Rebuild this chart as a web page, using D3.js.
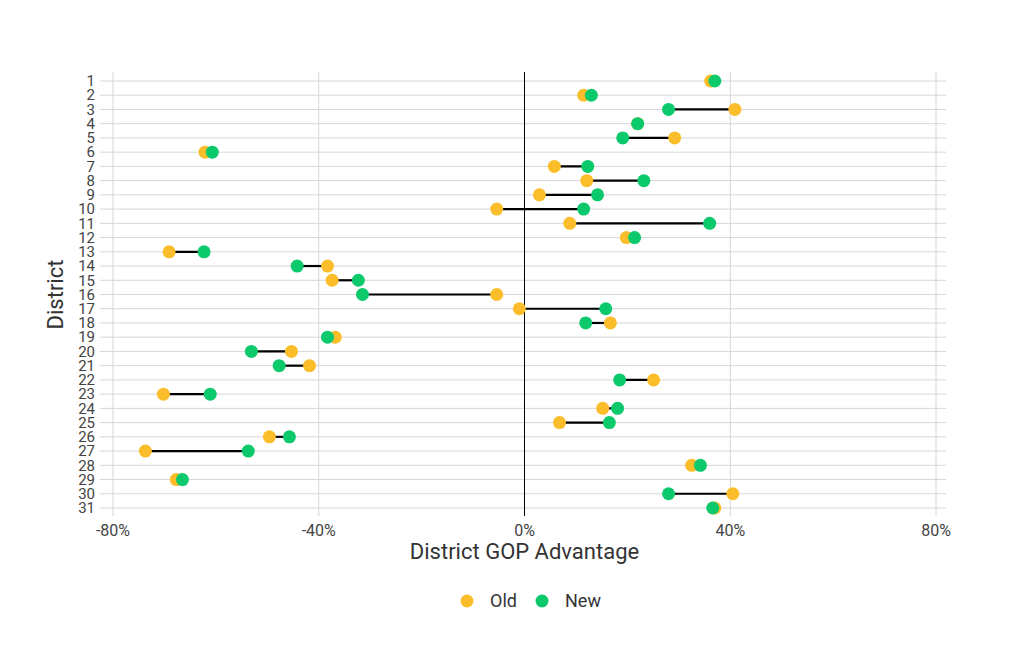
<!DOCTYPE html>
<html><head><meta charset="utf-8">
<script src="https://cdn.jsdelivr.net/npm/d3@7"></script>
<style>body{margin:0;background:#fff;font-family:Roboto,sans-serif}</style>
</head><body><svg id="c" width="1026" height="658"></svg>
<script>
const districts = d3.range(1, 32);
const oldVals = [36.2,11.5,40.9,22,29.2,-62.1,5.8,12.1,2.9,-5.4,8.8,19.8,-69.1,-38.3,-37.4,-5.4,-1.0,16.7,-36.8,-45.3,-41.8,25.1,-70.2,15.2,6.8,-49.6,-73.7,32.5,-67.7,40.5,37.0];
const newVals = [37.0,13.0,28.0,22,19.1,-60.7,12.3,23.2,14.2,11.5,36.0,21.4,-62.3,-44.2,-32.3,-31.5,15.8,11.9,-38.3,-53.1,-47.7,18.5,-61.1,18.1,16.5,-45.7,-53.7,34.2,-66.5,28.0,36.6];
const xTicks = [-80,-40,0,40,80];
const OLD = "#fbbd29", NEW = "#0cc96b";

const svg = d3.select("#c");
const x = d3.scaleLinear().domain([-80,80]).range([113,936]);
const y = d3.scaleLinear().domain([1,31]).range([81,508]);

// grid
svg.append("g").selectAll("line").data(xTicks).join("line")
  .attr("x1", d => x(d)).attr("x2", d => x(d)).attr("y1", 72).attr("y2", 516)
  .attr("stroke", "#d6d6d6");
svg.append("g").selectAll("line").data(districts).join("line")
  .attr("x1", 100).attr("x2", 946).attr("y1", d => y(d)).attr("y2", d => y(d))
  .attr("stroke", "#d6d6d6");
svg.append("line").attr("x1", x(0)).attr("x2", x(0)).attr("y1", 72).attr("y2", 516).attr("stroke", "#000");

// axes labels
svg.append("g").selectAll("text").data(xTicks).join("text")
  .attr("x", d => x(d)).attr("y", 536).attr("text-anchor", "middle")
  .attr("font-size", 16).attr("fill", "#444").text(d => d + "%");
svg.append("g").selectAll("text").data(districts).join("text")
  .attr("x", 95).attr("y", d => y(d)).attr("dy", "0.35em").attr("text-anchor", "end")
  .attr("font-size", 15).attr("fill", "#444").text(d => d);
svg.append("text").attr("x", x(0)).attr("y", 559).attr("text-anchor", "middle")
  .attr("font-size", 22).attr("fill", "#333").text("District GOP Advantage");
svg.append("text").attr("transform", `translate(63,${y(16)}) rotate(-90)`).attr("text-anchor", "middle")
  .attr("font-size", 22).attr("fill", "#333").text("District");

// dumbbells
const data = districts.map((d, i) => ({d, o: oldVals[i], n: newVals[i]}));
svg.append("g").selectAll("line").data(data).join("line")
  .attr("x1", d => x(d.o)).attr("x2", d => x(d.n)).attr("y1", d => y(d.d)).attr("y2", d => y(d.d))
  .attr("stroke", "#000").attr("stroke-width", 2.2);
svg.append("g").selectAll("circle").data(data).join("circle")
  .attr("cx", d => x(d.o)).attr("cy", d => y(d.d)).attr("r", 6.5).attr("fill", OLD);
svg.append("g").selectAll("circle").data(data).join("circle")
  .attr("cx", d => x(d.n)).attr("cy", d => y(d.d)).attr("r", 6.5).attr("fill", NEW);

// legend
const leg = [["Old", OLD, 467], ["New", NEW, 542]];
leg.forEach(([t, c, lx]) => {
  svg.append("circle").attr("cx", lx).attr("cy", 601).attr("r", 6.5).attr("fill", c);
  svg.append("text").attr("x", lx + 23).attr("y", 601).attr("dy", "0.35em")
    .attr("font-size", 18).attr("fill", "#333").text(t);
});
</script></body></html>
